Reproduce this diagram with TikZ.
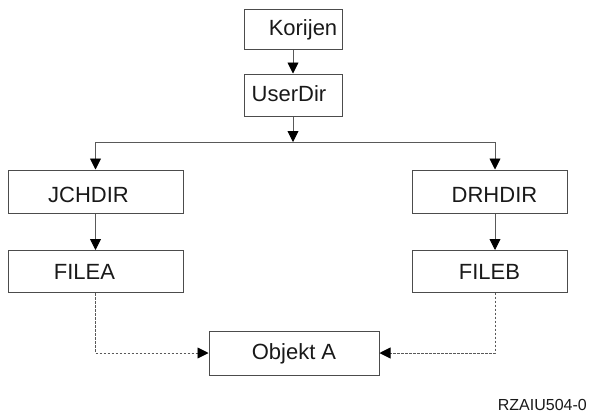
\documentclass[tikz,border=0pt]{standalone}
\usepackage{fontspec}
\setmainfont{Liberation Sans}
\usetikzlibrary{arrows.meta,calc}
\begin{document}
\begin{tikzpicture}[x=1pt,y=-1pt,
  box/.style={draw=black!70,line width=1pt,inner sep=0pt},
  txt/.style={font=\fontsize{22}{26}\selectfont,text=black!90},
  conn/.style={draw=black!65,line width=0.9pt,-{Triangle[length=11pt,width=11pt,color=black]}},
  dconn/.style={conn,dashed,dash pattern=on 2.5pt off 1.5pt},
  plain/.style={draw=black!65,line width=0.9pt}]
\useasboundingbox (0,0) rectangle (589,413);
% boxes
\node[box,minimum width=98pt,minimum height=40pt,label={[txt,xshift=10pt,yshift=-1pt]center:Korijen}] (k) at (293,29) {};
\node[box,minimum width=98pt,minimum height=42pt,label={[txt,xshift=-4pt,yshift=1pt]center:UserDir}] (u) at (293,95) {};
\node[box,minimum width=175pt,minimum height=43pt,label={[txt,xshift=-7pt,yshift=-3pt]center:JCHDIR}] (j) at (95.5,191.5) {};
\node[box,minimum width=175pt,minimum height=42pt,label={[txt,xshift=-11pt]center:FILEA}] (fa) at (95.5,271.5) {};
\node[box,minimum width=155pt,minimum height=43pt,label={[txt,xshift=5pt,yshift=-3pt]center:DRHDIR}] (d) at (489.5,191.5) {};
\node[box,minimum width=155pt,minimum height=42pt,label={[txt]center:FILEB}] (fb) at (489.5,271.5) {};
\node[box,minimum width=170pt,minimum height=44pt,label={[txt,yshift=-1pt]center:Objekt A}] (o) at (294,353) {};
\node[anchor=base east,inner sep=0pt,font=\fontsize{16}{18}\selectfont,text=black!90] (id) at (587,410) {RZAIU504-0};
% coordinates
\coordinate (split) at (293,142);
\coordinate (jl) at (95.5,142);
\coordinate (dr) at (495,142);
\coordinate (fbr) at (495,292.5);
% connectors
\draw[conn] (k) -- (u);
\draw[conn] (u) -- (split);
\draw[plain] (jl) -- (dr);
\draw[conn] (jl) -- (j.north);
\draw[conn] (dr) -- (dr |- d.north);
\draw[conn] (j) -- (fa);
\draw[conn] (dr |- d.south) -- (dr |- fb.north);
\draw[dconn] (fa.south) |- (o.west);
\draw[dconn] (fbr) |- (o.east);
\end{tikzpicture}
\end{document}
